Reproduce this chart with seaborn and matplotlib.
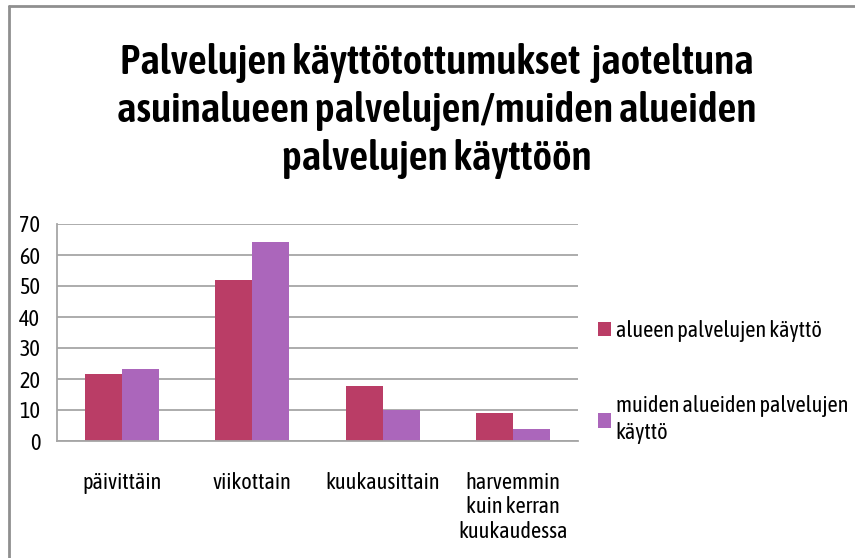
import matplotlib
matplotlib.use("Agg")
import matplotlib.pyplot as plt
import seaborn as sns
import pandas as pd

categories = ["päivittäin", "viikottain", "kuukausittain", "harvemmin\nkuin kerran\nkuukaudessa"]
series_names = ["alueen palvelujen käyttö", "muiden alueiden palvelujen\nkäyttö"]
alueen = [21.5, 52.0, 17.6, 9.1]
muiden = [23.3, 64.3, 10.0, 3.8]
yticks = [0, 10, 20, 30, 40, 50, 60, 70]
colors = ["#BA3D66", "#AB66BB"]
title = "Palvelujen käyttötottumukset  jaoteltuna\nasuinalueen palvelujen/muiden alueiden\npalvelujen käyttöön"

df = pd.DataFrame({
    "kategoria": categories * 2,
    "sarja": [series_names[0]] * 4 + [series_names[1]] * 4,
    "arvo": alueen + muiden,
})

sns.set_style("white")
plt.rcParams["font.family"] = ["Asap Condensed", "Archivo Narrow", "DejaVu Sans"]
plt.rcParams["text.color"] = "#000000"

fig = plt.figure(figsize=(8.55, 5.58), dpi=100)
ax = fig.add_axes([57 / 855, 1 - 441 / 558, (578 - 57) / 855, (441 - 224) / 558])

sns.barplot(data=df, x="kategoria", y="arvo", hue="sarja", palette=colors,
            width=0.57, ax=ax, saturation=1, legend=True, linewidth=0)

ax.set_ylim(0, 70)
ax.set_yticks(yticks)
ax.set_xlim(-0.5, len(categories) - 0.5)
ax.yaxis.grid(True, color="#A6A6A6", linewidth=1.3)
ax.set_axisbelow(True)
for s in ["top", "right"]:
    ax.spines[s].set_visible(False)
for s in ["left", "bottom"]:
    ax.spines[s].set_color("#A6A6A6")
    ax.spines[s].set_linewidth(1.3)
ax.set_xlabel("")
ax.set_ylabel("")
ax.tick_params(axis="y", labelsize=16, length=0, pad=12, labelcolor="black")
ax.tick_params(axis="x", labelsize=16, length=0, pad=22, labelcolor="black")
for lab in ax.get_xticklabels():
    lab.set_verticalalignment("top")
    lab.set_linespacing(1.15)

leg = ax.legend(loc="upper left", bbox_to_anchor=(1.0, 0.65), frameon=False,
                fontsize=16, handlelength=0.6, handleheight=0.6, handletextpad=0.2,
                labelspacing=2.4)
for t in leg.get_texts():
    t.set_linespacing(1.3)

fig.text(0.511, 1 - 111 / 558, title, ha="center", va="center", fontsize=30,
         fontweight="semibold", linespacing=1.25)

# outer frame along the top and left edges
fig.add_artist(plt.Line2D([9 / 855, 1], [1 - 6 / 558] * 2, color="#8F8F8F", lw=2,
                          transform=fig.transFigure))
fig.add_artist(plt.Line2D([9 / 855] * 2, [0, 1 - 6 / 558], color="#8F8F8F", lw=2,
                          transform=fig.transFigure))

fig.savefig("out.png", dpi=100)
